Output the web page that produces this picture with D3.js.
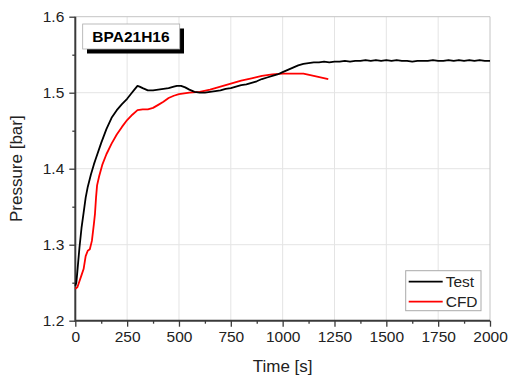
<!DOCTYPE html>
<html>
<head>
<meta charset="utf-8">
<script src="https://d3js.org/d3.v7.min.js"></script>
<style>
    body { margin: 0; background: #fff; }
    text { font-family: Arial, 'Liberation Sans', sans-serif; fill: #222; }
</style>
</head>
<body>
<div id="chart"></div>
<script>
// data
var testTime = [0, 5, 10, 20, 30, 40, 50, 60, 75, 90, 100, 125, 150, 175, 200, 225, 250, 270, 285, 300,
    310, 325, 350, 375, 400, 425, 450, 475, 490, 510, 530, 550, 575, 600, 625, 650, 675, 700, 725, 750,
    775, 800, 825, 850, 875, 900, 925, 950, 975, 1000, 1025, 1050, 1075, 1100, 1125, 1150, 1175, 1200,
    1225, 1250, 1275, 1300, 1325, 1350, 1375, 1400, 1425, 1450, 1475, 1500, 1525, 1550, 1575, 1600,
    1625, 1650, 1675, 1700, 1725, 1750, 1775, 1800, 1825, 1850, 1875, 1900, 1925, 1950, 1975, 2000];
var testPressure = [1.246, 1.250, 1.265, 1.296, 1.322, 1.342, 1.362, 1.376, 1.392, 1.406, 1.414, 1.434,
    1.452, 1.467, 1.477, 1.485, 1.492, 1.499, 1.504, 1.509, 1.508, 1.506, 1.503, 1.503, 1.504, 1.505,
    1.506, 1.508, 1.509, 1.509, 1.507, 1.504, 1.501, 1.500, 1.500, 1.501, 1.502, 1.503, 1.505, 1.506,
    1.508, 1.510, 1.511, 1.513, 1.515, 1.518, 1.520, 1.522, 1.524, 1.527, 1.530, 1.533, 1.536, 1.538,
    1.539, 1.540, 1.540, 1.541, 1.540, 1.541, 1.541, 1.542, 1.541, 1.542, 1.542, 1.543, 1.542, 1.543,
    1.542, 1.543, 1.542, 1.543, 1.542, 1.542, 1.541, 1.542, 1.542, 1.542, 1.543, 1.542, 1.542, 1.543,
    1.542, 1.543, 1.542, 1.543, 1.542, 1.543, 1.542, 1.542];
var cfdTime = [0, 10, 20, 30, 40, 50, 60, 70, 80, 90, 95, 100, 105, 115, 130, 150, 175, 200, 225, 250,
    275, 300, 325, 350, 375, 400, 425, 450, 475, 500, 550, 600, 650, 700, 750, 800, 850, 900, 950, 1000,
    1100, 1150, 1220];
var cfdPressure = [1.242, 1.244, 1.252, 1.260, 1.268, 1.285, 1.292, 1.294, 1.305, 1.328, 1.341, 1.362,
    1.378, 1.390, 1.405, 1.419, 1.433, 1.445, 1.455, 1.464, 1.471, 1.477, 1.478, 1.478, 1.480, 1.484,
    1.488, 1.493, 1.496, 1.498, 1.500, 1.501, 1.504, 1.508, 1.512, 1.516, 1.519, 1.522, 1.524, 1.525,
    1.525, 1.522, 1.518];
var xTicks = [0, 250, 500, 750, 1000, 1250, 1500, 1750, 2000];
var yTicks = [1.2, 1.3, 1.4, 1.5, 1.6];
var seriesNames = ['Test', 'CFD'];
var seriesColors = ['#000000', '#ff0000'];
var chartLabel = 'BPA21H16';

var W = 509, H = 376;
var margin = {top: 16.7, right: 19, bottom: 55.3, left: 75.3};
var width = W - margin.left - margin.right,
    height = H - margin.top - margin.bottom;

var svg = d3.select('#chart').append('svg')
    .attr('width', W)
    .attr('height', H);
var chart = svg.append('g')
    .attr('transform', 'translate(' + margin.left + ',' + margin.top + ')');

// scales
var xScale = d3.scaleLinear().domain([0, 2000]).range([0, width]);
var yScale = d3.scaleLinear().domain([1.2, 1.6]).range([height, 0]);

// grid
chart.append('g').selectAll('line.gx')
    .data(xTicks.slice(1, -1))
    .enter().append('line')
    .attr('x1', function(d) { return xScale(d); })
    .attr('x2', function(d) { return xScale(d); })
    .attr('y1', 0).attr('y2', height)
    .style('stroke', '#e4e4e4').style('stroke-width', 1);
chart.append('g').selectAll('line.gy')
    .data(yTicks.slice(1, -1))
    .enter().append('line')
    .attr('y1', function(d) { return yScale(d); })
    .attr('y2', function(d) { return yScale(d); })
    .attr('x1', 0).attr('x2', width)
    .style('stroke', '#e4e4e4').style('stroke-width', 1);

// top / right frame
chart.append('path')
    .attr('d', 'M0,0H' + width + 'V' + height)
    .style('fill', 'none').style('stroke', '#c4c4c4').style('stroke-width', 1);

// axes
function tickStyling(g) {
    g.select('.domain').remove();
    g.selectAll('line').style('stroke', '#3a3a3a').style('stroke-width', 1.3);
    g.selectAll('text').style('font-size', '15.5px').style('fill', '#222')
        .style('font-family', "Arial, 'Liberation Sans', sans-serif");
}
var xMinor = d3.range(125, 2000, 250);
var yMinor = d3.range(1.25, 1.6, 0.1);

var xAxis = chart.append('g').attr('transform', 'translate(0,' + height + ')');
xAxis.call(d3.axisBottom(xScale).tickValues(xTicks).tickSize(6).tickPadding(4)
    .tickFormat(d3.format('d')))
    .call(tickStyling);
xAxis.append('g').call(d3.axisBottom(xScale).tickValues(xMinor).tickSize(3).tickFormat(''))
    .call(tickStyling);

var yAxis = chart.append('g');
yAxis.call(d3.axisLeft(yScale).tickValues(yTicks).tickSize(6).tickPadding(5)
    .tickFormat(d3.format('.1f')))
    .call(tickStyling);
yAxis.append('g').call(d3.axisLeft(yScale).tickValues(yMinor).tickSize(3).tickFormat(''))
    .call(tickStyling);

// axis lines
chart.append('path')
    .attr('d', 'M0,0V' + height + 'H' + width)
    .style('fill', 'none').style('stroke', '#3a3a3a').style('stroke-width', 2);

// lines
var line = d3.line()
    .x(function(d) { return xScale(d[0]); })
    .y(function(d) { return yScale(d[1]); });
var testData = d3.zip(testTime, testPressure);
var cfdData = d3.zip(cfdTime, cfdPressure);

chart.append('path').datum(cfdData)
    .attr('d', line)
    .style('fill', 'none').style('stroke', seriesColors[1]).style('stroke-width', 1.8)
    .style('stroke-linejoin', 'round');
chart.append('path').datum(testData)
    .attr('d', line)
    .style('fill', 'none').style('stroke', seriesColors[0]).style('stroke-width', 1.8)
    .style('stroke-linejoin', 'round');

// axis titles
svg.append('text').text('Time [s]')
    .attr('x', margin.left + width / 2)
    .attr('y', 372)
    .attr('text-anchor', 'middle')
    .style('font-size', '17px');
svg.append('text').text('Pressure [bar]')
    .attr('transform', 'translate(22,' + (margin.top + height / 2) + ') rotate(-90)')
    .attr('text-anchor', 'middle')
    .style('font-size', '17px');

// label box with shadow
svg.append('rect')
    .attr('x', 87).attr('y', 28.5).attr('width', 97).attr('height', 25)
    .style('fill', '#000');
svg.append('rect')
    .attr('x', 82.7).attr('y', 24).attr('width', 97).attr('height', 25)
    .style('fill', '#fff').style('stroke', '#aaa').style('stroke-width', 0.8);
svg.append('text').text(chartLabel)
    .attr('x', 131).attr('y', 42)
    .attr('text-anchor', 'middle')
    .style('font-size', '15.5px').style('font-weight', 700).style('fill', '#000');

// legend
var legend = svg.append('g').attr('transform', 'translate(405.7,270.7)');
legend.append('rect')
    .attr('width', 75.3).attr('height', 40)
    .style('fill', '#fff').style('stroke', '#aaa').style('stroke-width', 1);
seriesNames.forEach(function(name, i) {
    legend.append('line')
        .attr('x1', 3).attr('x2', 37)
        .attr('y1', 11 + i * 20).attr('y2', 11 + i * 20)
        .style('stroke', seriesColors[i]).style('stroke-width', 1.8);
    legend.append('text').text(name)
        .attr('x', 40).attr('y', 16.5 + i * 20)
        .style('font-size', '15.5px');
});
</script>
</body>
</html>
